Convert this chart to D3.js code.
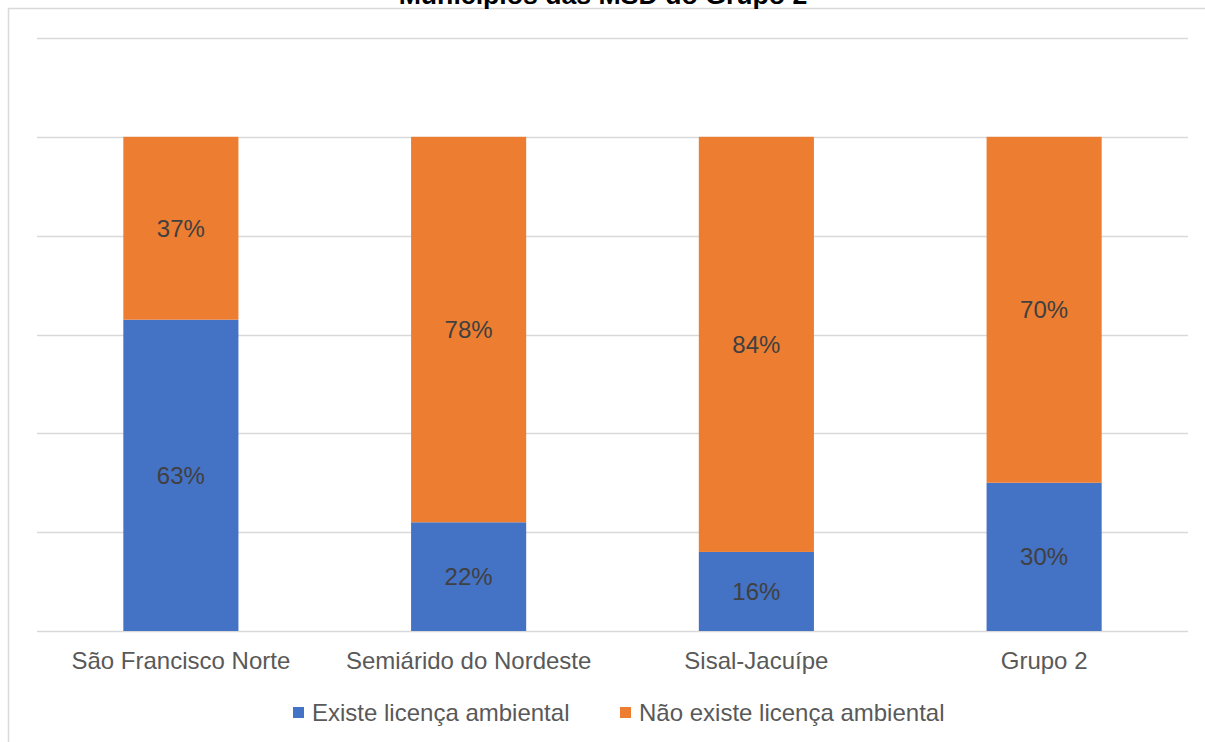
<!DOCTYPE html>
<html>
<head>
<meta charset="utf-8">
<script src="https://cdn.jsdelivr.net/npm/d3@7"></script>
<style>
  html, body { margin: 0; padding: 0; background: #fff; }
  svg { display: block; font-family: Arial, "Liberation Sans", sans-serif; }
</style>
</head>
<body>
<svg id="chart" width="1205" height="742"></svg>
<script>
// Licença ambiental por MSD do Grupo 2 (shares of municipalities)
const categories = ["São Francisco Norte", "Semiárido do Nordeste", "Sisal-Jacuípe", "Grupo 2"];
const seriesNames = ["Existe licença ambiental", "Não existe licença ambiental"];
const existe = [0.63, 0.22, 0.16, 0.30];
const naoExiste = [0.37, 0.78, 0.84, 0.70];
const yTicks = [0, 0.2, 0.4, 0.6, 0.8, 1.0, 1.2];
const colors = ["#4472C4", "#ED7D31"];
const title = "Municípios das MSD do Grupo 2";

const svg = d3.select("#chart");
const W = 1205, H = 742;
const plot = { left: 37, right: 1188, top: 38, bottom: 631 };

// chart area frame (top and left edges visible)
svg.append("path")
  .attr("d", `M8.5,${H} V8.5 H${W}`)
  .attr("fill", "none")
  .attr("stroke", "#d9d9d9")
  .attr("stroke-width", 1.5);

// title
svg.append("text")
  .attr("x", 603).attr("y", 4)
  .attr("text-anchor", "middle")
  .attr("font-size", 26.67)
  .attr("font-weight", "bold")
  .attr("fill", "#000")
  .text(title);

const x = d3.scaleBand()
  .domain(categories)
  .range([plot.left, plot.right])
  .paddingInner(0.6)
  .paddingOuter(0.3);

const y = d3.scaleLinear()
  .domain([0, 1.2])
  .range([plot.bottom, plot.top]);

// gridlines
svg.append("g")
  .selectAll("line")
  .data(yTicks)
  .join("line")
  .attr("x1", plot.left).attr("x2", plot.right)
  .attr("y1", d => Math.round(y(d)) + 0.5)
  .attr("y2", d => Math.round(y(d)) + 0.5)
  .attr("stroke", "#d9d9d9")
  .attr("stroke-width", 1.3);

// stacked data
const rows = categories.map((c, i) => ({ cat: c, s0: existe[i], s1: naoExiste[i] }));
const stack = d3.stack().keys(["s0", "s1"])(rows);

const layers = svg.append("g")
  .selectAll("g")
  .data(stack)
  .join("g")
  .attr("fill", (d, i) => colors[i]);

layers.selectAll("rect")
  .data(d => d)
  .join("rect")
  .attr("x", d => x(d.data.cat))
  .attr("width", x.bandwidth())
  .attr("y", d => y(d[1]))
  .attr("height", d => y(d[0]) - y(d[1]));

// data labels
layers.selectAll("text")
  .data(d => d)
  .join("text")
  .attr("x", d => x(d.data.cat) + x.bandwidth() / 2)
  .attr("y", d => (y(d[0]) + y(d[1])) / 2)
  .attr("dy", "0.35em")
  .attr("text-anchor", "middle")
  .attr("font-size", 24)
  .attr("fill", "#404040")
  .text(d => Math.round((d[1] - d[0]) * 100) + "%");

// category axis labels
svg.append("g")
  .selectAll("text")
  .data(categories)
  .join("text")
  .attr("x", d => x(d) + x.bandwidth() / 2)
  .attr("y", 669)
  .attr("text-anchor", "middle")
  .attr("font-size", 24)
  .attr("fill", "#595959")
  .text(d => d);

// legend
const legendX = [293, 620];
const legend = svg.append("g")
  .selectAll("g")
  .data(seriesNames)
  .join("g")
  .attr("transform", (d, i) => `translate(${legendX[i]},0)`);
legend.append("rect")
  .attr("x", 0).attr("y", 707)
  .attr("width", 11).attr("height", 11)
  .attr("fill", (d, i) => colors[i]);
legend.append("text")
  .attr("x", 19).attr("y", 721)
  .attr("font-size", 24)
  .attr("fill", "#595959")
  .text(d => d);
</script>
</body>
</html>
